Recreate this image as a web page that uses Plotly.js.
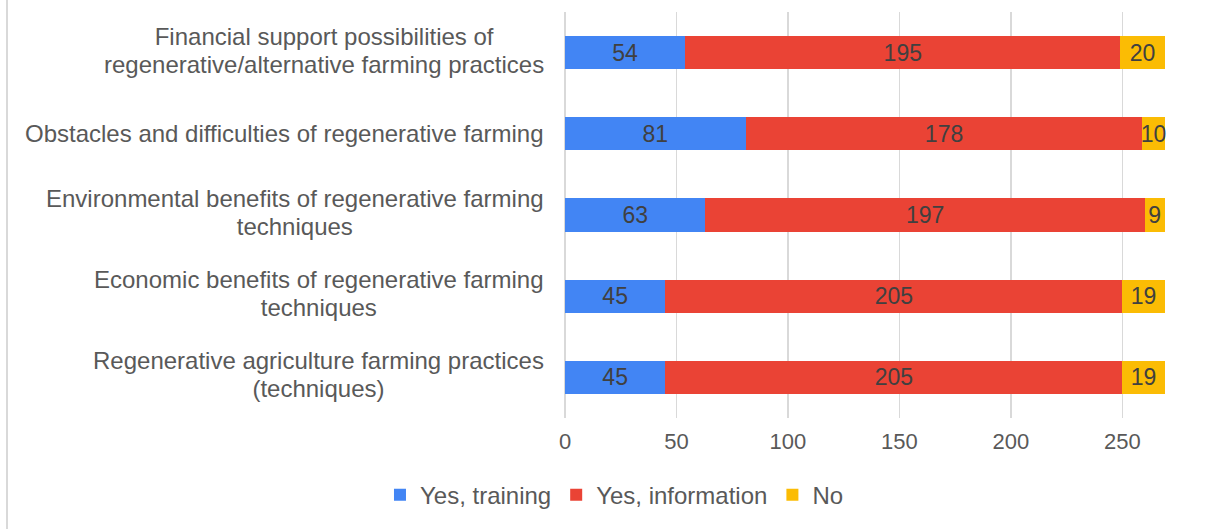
<!DOCTYPE html>
<html>
<head>
<meta charset="utf-8">
<script src="https://cdn.plot.ly/plotly-3.0.1.min.js"></script>
<style>html,body{margin:0;padding:0;background:#fff;}#chart{width:1212px;height:529px;}</style>
</head>
<body>
<div id="chart"></div>
<script>
// Categories, top to bottom as shown
const categories = [
  "Financial support possibilities of<br>regenerative/alternative farming practices",
  "Obstacles and difficulties of regenerative farming",
  "Environmental benefits of regenerative farming<br>techniques",
  "Economic benefits of regenerative farming<br>techniques",
  "Regenerative agriculture farming practices<br>(techniques)"
];
const seriesNames = ["Yes, training", "Yes, information", "No"];
const yesTraining = [54, 81, 63, 45, 45];
const yesInformation = [195, 178, 197, 205, 205];
const no = [20, 10, 9, 19, 19];
const xTicks = [0, 50, 100, 150, 200, 250];

const colors = ["#4285F4", "#EA4335", "#FBBC04"];
const values = [yesTraining, yesInformation, no];
const font = "Liberation Sans, Arial, sans-serif";

const traces = values.map((v, i) => ({
  type: "bar",
  orientation: "h",
  name: seriesNames[i],
  y: categories,
  x: v,
  text: v.map(String),
  textposition: "inside",
  insidetextanchor: "middle",
  constraintext: "none",
  textfont: {family: font, size: 23, color: "#404040"},
  marker: {color: colors[i], line: {width: 0}},
  hoverinfo: "x+name"
}));

// line height 1.3 * 21.5 ≈ 28px, glyphs drawn at 24px
const annotations = categories.map(c => ({
  text: c.split("<br>").map(s => '<span style="font-size:24px">' + s + '</span>').join("<br>"),
  xref: "paper", yref: "y",
  x: 0, y: c,
  xanchor: "right", yanchor: "middle",
  xshift: -19,
  yshift: c.indexOf("<br>") >= 0 ? 2.5 : 0,
  align: "center",
  showarrow: false,
  font: {family: font, size: 21.5, color: "#595959"}
}));

const layout = {
  width: 1212, height: 529,
  margin: {l: 565, r: 45, t: 12, b: 111},
  paper_bgcolor: "#fff", plot_bgcolor: "#fff",
  barmode: "stack",
  bargap: 0.59,
  font: {family: font, color: "#595959"},
  xaxis: {
    range: [0, 270],
    tickvals: xTicks,
    ticktext: xTicks.map(String),
    showgrid: true, gridcolor: "#d9d9d9", gridwidth: 1.3,
    zeroline: true, zerolinecolor: "#d9d9d9", zerolinewidth: 1.3,
    showline: false, ticks: "",
    tickfont: {family: font, size: 22, color: "#595959"},
    ticklabelstandoff: 8
  },
  yaxis: {
    autorange: "reversed",
    type: "category",
    showticklabels: false, showgrid: false, zeroline: false, ticks: ""
  },
  showlegend: true,
  legend: {
    orientation: "h",
    xref: "container", yref: "container",
    x: 0.507, xanchor: "center",
    y: 0.064, yanchor: "middle",
    traceorder: "normal",
    font: {family: font, size: 24, color: "#595959"},
    itemwidth: 30
  },
  annotations: annotations,
  shapes: [{
    type: "line", xref: "paper", yref: "paper",
    x0: -558/602, x1: -558/602, y0: -0.3, y1: 1.05,
    line: {color: "#d9d9d9", width: 2}
  }]
};

Plotly.newPlot("chart", traces, layout, {displayModeBar: false, staticPlot: true});
</script>
</body>
</html>
